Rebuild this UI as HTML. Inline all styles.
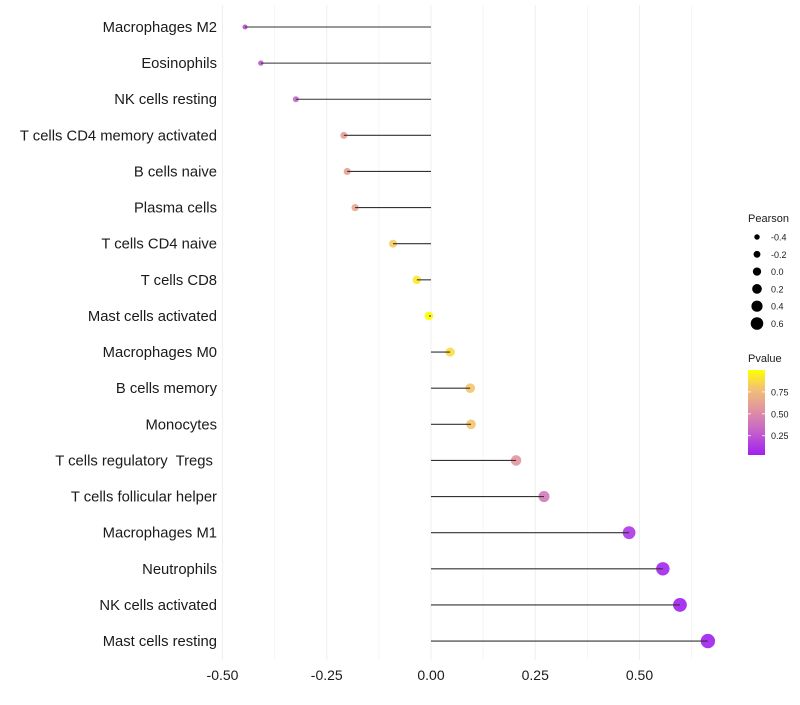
<!DOCTYPE html>
<html><head><meta charset="utf-8"><style>
body{margin:0;background:#fff;font-family:"Liberation Sans",sans-serif}
text{white-space:pre}
</style></head><body>
<svg id="chart" width="800" height="700" xmlns="http://www.w3.org/2000/svg">
<defs><linearGradient id="pg" x1="0" y1="1" x2="0" y2="0">
<stop offset="0" stop-color="#a020f0"/><stop offset="0.3" stop-color="#c766c8"/><stop offset="0.55" stop-color="#e2969e"/><stop offset="0.78" stop-color="#f3c174"/><stop offset="1" stop-color="#ffff00"/></linearGradient></defs>
<g id="grid"></g>
<g id="marks"></g>
<g id="legend"></g>
</svg>
<script>
const categories=["Macrophages M2","Eosinophils","NK cells resting","T cells CD4 memory activated","B cells naive","Plasma cells","T cells CD4 naive","T cells CD8","Mast cells activated","Macrophages M0","B cells memory","Monocytes","T cells regulatory  Tregs ","T cells follicular helper","Macrophages M1","Neutrophils","NK cells activated","Mast cells resting"];
const pearson=[-0.446,-0.408,-0.324,-0.209,-0.201,-0.182,-0.091,-0.034,-0.005,0.046,0.094,0.096,0.204,0.271,0.475,0.556,0.597,0.664];
const pvalue=[0.22,0.25,0.32,0.6,0.62,0.66,0.82,0.92,0.99,0.88,0.8,0.8,0.56,0.42,0.12,0.06,0.03,0.02];
const xTicks=[-0.5,-0.25,0,0.25,0.5];
const xTickLabels=["-0.50","-0.25","0.00","0.25","0.50"];
const sizeLegend=[-0.4,-0.2,0.0,0.2,0.4,0.6];
const sizeLegendLabels=["-0.4","-0.2","0.0","0.2","0.4","0.6"];
const pTicks=[0.25,0.5,0.75];
const pTickLabels=["0.25","0.50","0.75"];
const NS="http://www.w3.org/2000/svg";
const X=v=>431+v*417;
const Y=i=>27+i*36.12;
const R=v=>4.4+4.2*v;
const P=p=>455-(p-0.03)*(85/0.97);
function lerp(a,b,t){return a.map((x,i)=>Math.round(x+(b[i]-x)*t));}
const stops=[[0,[160,32,240]],[0.3,[199,102,200]],[0.55,[226,150,158]],[0.78,[243,193,116]],[1,[255,255,0]]];
function col(p){let t=(p-0.03)/0.97;t=Math.max(0,Math.min(1,t));for(let i=1;i<stops.length;i++){if(t<=stops[i][0]){const a=stops[i-1],b=stops[i];const c=lerp(a[1],b[1],(t-a[0])/(b[0]-a[0]));return `rgb(${c})`;}}return "rgb(255,255,0)";}
function mk(tag,attrs,parent,text){const e=document.createElementNS(NS,tag);for(const k in attrs)e.setAttribute(k,attrs[k]);if(text!==undefined)e.textContent=text;parent.appendChild(e);return e;}
const grid=document.getElementById('grid'),marks=document.getElementById('marks'),leg=document.getElementById('legend');
for(let v=-0.5;v<=0.65;v+=0.125){const l=mk('line',{x1:X(v),x2:X(v),y1:5,y2:660,stroke:'#f0f0f0','stroke-width':Math.abs(v/0.25-Math.round(v/0.25))<0.01?1.1:0.6},grid);

}
xTicks.forEach((v,i)=>{const t=mk('text',{x:X(v),y:680,'text-anchor':'middle','font-size':14,fill:'#1a1a1a'},grid,xTickLabels[i]);

});
categories.forEach((c,i)=>{const t=mk('text',{x:217,y:Y(i)+5,'text-anchor':'end','font-size':14.8,fill:'#1a1a1a'},grid,c);


const ci=mk('circle',{cx:X(pearson[i]),cy:Y(i),r:R(pearson[i]),fill:col(pvalue[i]),'fill-opacity':0.9},marks);


const ln=mk('line',{x1:X(0),x2:X(pearson[i]),y1:Y(i),y2:Y(i),stroke:'#333','stroke-width':1.1},marks);

});
const lt=mk('text',{x:748,y:222,'font-size':11,fill:'#1a1a1a'},leg,'Pearson');


sizeLegend.forEach((v,i)=>{const y=237+i*17.3;const c=mk('circle',{cx:757,cy:y,r:R(v)*0.85+0.4,fill:'#000'},leg);


const t=mk('text',{x:771,y:y+3.5,'font-size':9,fill:'#1a1a1a'},leg,sizeLegendLabels[i]);

});
const pt=mk('text',{x:748,y:362,'font-size':11,fill:'#1a1a1a'},leg,'Pvalue');


const bar=mk('rect',{x:748,y:370,width:17,height:85,fill:'url(#pg)'},leg);


pTicks.forEach((p,i)=>{const y=P(p);mk('line',{x1:748,x2:751,y1:y,y2:y,stroke:'#fff','stroke-width':0.8},leg);mk('line',{x1:762,x2:765,y1:y,y2:y,stroke:'#fff','stroke-width':0.8},leg);
const t=mk('text',{x:771,y:y+3.5,'font-size':9,fill:'#1a1a1a'},leg,pTickLabels[i]);

});
</script>
</body></html>
